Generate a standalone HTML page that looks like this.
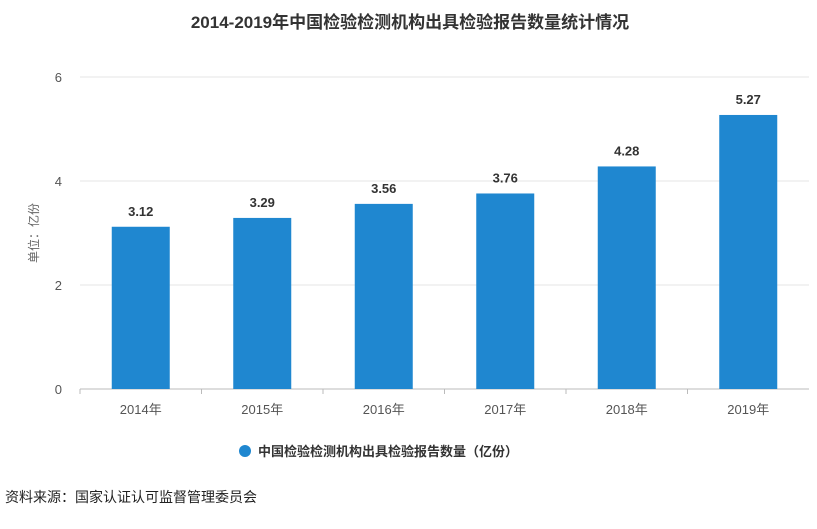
<!DOCTYPE html>
<html><head><meta charset="utf-8">
<style>
body{margin:0;background:#fff;width:817px;height:524px;overflow:hidden;font-family:"Liberation Sans","Noto Sans CJK SC",sans-serif;}
</style></head>
<body>
<svg id="chart" width="817" height="524" xmlns="http://www.w3.org/2000/svg" font-family="Liberation Sans, Noto Sans CJK SC, sans-serif">
<text x="410" y="28" text-anchor="middle" font-size="17" font-weight="bold" fill="#333">2014-2019年中国检验检测机构出具检验报告数量统计情况</text>
<text transform="translate(38,233) rotate(-90)" text-anchor="middle" font-size="12" fill="#666">单位：亿份</text>
<g id="grid"></g>
<g id="bars"></g>
<g>
<circle cx="245" cy="451" r="6" fill="#1f87d0"/>
<text x="258" y="456" font-size="13" font-weight="bold" fill="#333">中国检验检测机构出具检验报告数量（亿份）</text>
</g>
<text x="5" y="502" font-size="14" fill="#222">资料来源：国家认证认可监督管理委员会</text>
</svg>
<script>
const categories=["2014年","2015年","2016年","2017年","2018年","2019年"];
const values=[3.12,3.29,3.56,3.76,4.28,5.27];
const yTicks=[0,2,4,6];
const NS="http://www.w3.org/2000/svg";
const left=80,right=809,y0=389,y6=77,yMax=6;
const yScale=v=>y0-(v/yMax)*(y0-y6);
const band=(right-left)/categories.length;
const xCenter=i=>left+band*(i+0.5);
const barW=58;
function mk(tag,attrs,parent){const e=document.createElementNS(NS,tag);for(const k in attrs)e.setAttribute(k,attrs[k]);parent.appendChild(e);return e;}
const grid=document.getElementById('grid');
yTicks.forEach(t=>{
 const l=mk('line',{x1:left,x2:right,y1:yScale(t),y2:yScale(t),stroke:t===0?'#bbb':'#e6e6e6','stroke-width':1},grid);
 
 
 const tx=mk('text',{x:62,y:yScale(t)+5,'text-anchor':'end','font-size':13,fill:'#555'},grid);
 tx.textContent=t;
 
 
});
const bars=document.getElementById('bars');
categories.forEach((c,i)=>{
 const v=values[i],cx=xCenter(i);
 const r=mk('rect',{x:cx-barW/2,y:yScale(v),width:barW,height:y0-yScale(v),fill:'#1f87d0'},bars);
 
 
 const lb=mk('text',{x:cx,y:yScale(v)-11,'text-anchor':'middle','font-size':13,'font-weight':'bold',fill:'#333'},bars);
 lb.textContent=v.toFixed(2);
 
 
 const tk=mk('line',{x1:left+band*i,x2:left+band*i,y1:y0,y2:y0+5,stroke:'#bbb'},bars);
 
 
 const xl=mk('text',{x:cx,y:414,'text-anchor':'middle','font-size':13,fill:'#555'},bars);
 xl.textContent=c;
 
 
});
</script>
</body></html>
